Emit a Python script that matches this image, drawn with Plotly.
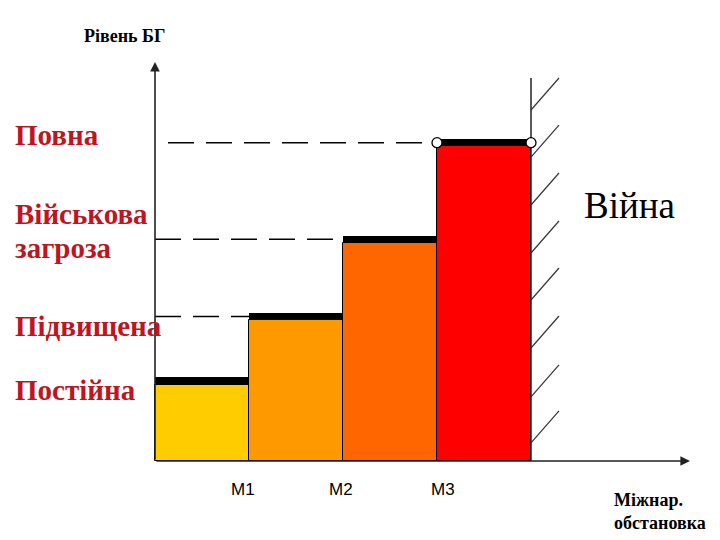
import plotly.graph_objects as go

# ---- data ----
categories = ["Постійна", "Підвищена", "Військова загроза", "Повна"]
levels = [26, 46, 70, 100]          # bar heights (relative level)
x_centers = [0.5, 1.5, 2.5, 3.5]
bar_colors = ["#FFCC00", "#FF9900", "#FF6600", "#FF0000"]
tick_pos = [1, 2, 3]
tick_labels = ["M1", "M2", "M3"]
tick_shift = [-6, -2, 6]
hatch_starts = [109, 94.4, 79.5, 64.6, 50, 35.1, 19.9, 5.6]

W, H = 720, 540
PX_X = 94.0    # px per x unit
PX_Y = 3.22    # px per y unit
X0, Y0 = 155, 461  # pixel of origin
band = 2.3

def dx(px):
    return (px - X0) / PX_X

def dy(py):
    return (Y0 - py) / PX_Y

fig = go.Figure()

# coloured bars
fig.add_trace(go.Bar(
    x=x_centers, y=[v - band for v in levels], base=0, width=1,
    marker=dict(color=bar_colors, line=dict(color="black", width=1)),
    hoverinfo="skip", showlegend=False))
# black top bands
fig.add_trace(go.Bar(
    x=x_centers, y=[band] * 4, base=[v - band for v in levels], width=1,
    marker=dict(color="black", line=dict(color="black", width=0)),
    hoverinfo="skip", showlegend=False))

# dashed level lines
for i in range(1, 4):
    yv = levels[i] - band / 2
    x_start = 0 if i < 3 else dx(168)
    fig.add_trace(go.Scatter(
        x=[x_start, x_centers[i] - 0.5], y=[yv, yv], mode="lines",
        line=dict(color="black", width=1.5, dash="26px,12px"),
        hoverinfo="skip", showlegend=False))

# wall line and hatches
fig.add_trace(go.Scatter(x=[4, 4], y=[0, dy(78)], mode="lines",
                         line=dict(color="#222", width=1.5),
                         hoverinfo="skip", showlegend=False))
for hs in hatch_starts:
    fig.add_trace(go.Scatter(x=[4, 4 + 28 / PX_X], y=[hs, hs + 32 / PX_Y],
                             mode="lines", line=dict(color="#333", width=1.2),
                             hoverinfo="skip", showlegend=False))

# circles at top of last bar
ytop = levels[3] - band / 2
fig.add_trace(go.Scatter(x=[3, 4], y=[ytop, ytop], mode="markers",
                         marker=dict(size=10, color="white",
                                     line=dict(color="black", width=1.3)),
                         hoverinfo="skip", showlegend=False))

annotations = []
# axes arrows
annotations.append(dict(x=0, y=dy(62), ax=0, ay=0, xref="x", yref="y",
                        axref="x", ayref="y", showarrow=True, arrowhead=2,
                        arrowsize=1.2, arrowwidth=1.6, arrowcolor="#222", text=""))
annotations.append(dict(x=dx(690), y=0, ax=0, ay=0, xref="x", yref="y",
                        axref="x", ayref="y", showarrow=True, arrowhead=2,
                        arrowsize=1.2, arrowwidth=1.6, arrowcolor="#222", text=""))

# M labels
for p, t, s in zip(tick_pos, tick_labels, tick_shift):
    annotations.append(dict(x=p, y=dy(489), xref="x", yref="y", text=t,
                            showarrow=False, xshift=s,
                            font=dict(family="Liberation Sans", size=17, color="black")))

red = "#BF1520"
serif = "Liberation Serif"
def ptext(px, py, text, size, color, bold=True, xanchor="left"):
    annotations.append(dict(x=px / W, y=1 - py / H, xref="paper", yref="paper",
                            text=text, showarrow=False, xanchor=xanchor, yanchor="middle",
                            font=dict(family=serif, size=size, color=color,
                                      weight="bold" if bold else "normal")))

ptext(13, 135, categories[3], 29, red)
ptext(13, 214, "Військова", 29, red)
ptext(13, 248, "загроза", 29, red)
ptext(13, 326, categories[1], 29, red)
ptext(13, 390, categories[0], 29, red)

ptext(82, 36, "Рівень БГ", 18, "black")
ptext(582, 205, "Війна", 37, "black", bold=False)
ptext(612, 500, "Міжнар.", 18, "black")
ptext(612, 523, "обстановка", 18, "black")

fig.update_layout(
    width=W, height=H, margin=dict(l=0, r=0, t=0, b=0),
    paper_bgcolor="white", plot_bgcolor="white",
    barmode="overlay", bargap=0,
    xaxis=dict(range=[dx(0), dx(W)], visible=False, fixedrange=True),
    yaxis=dict(range=[dy(H), dy(0)], visible=False, fixedrange=True),
    annotations=annotations, showlegend=False,
)

fig.write_html("out.html")
